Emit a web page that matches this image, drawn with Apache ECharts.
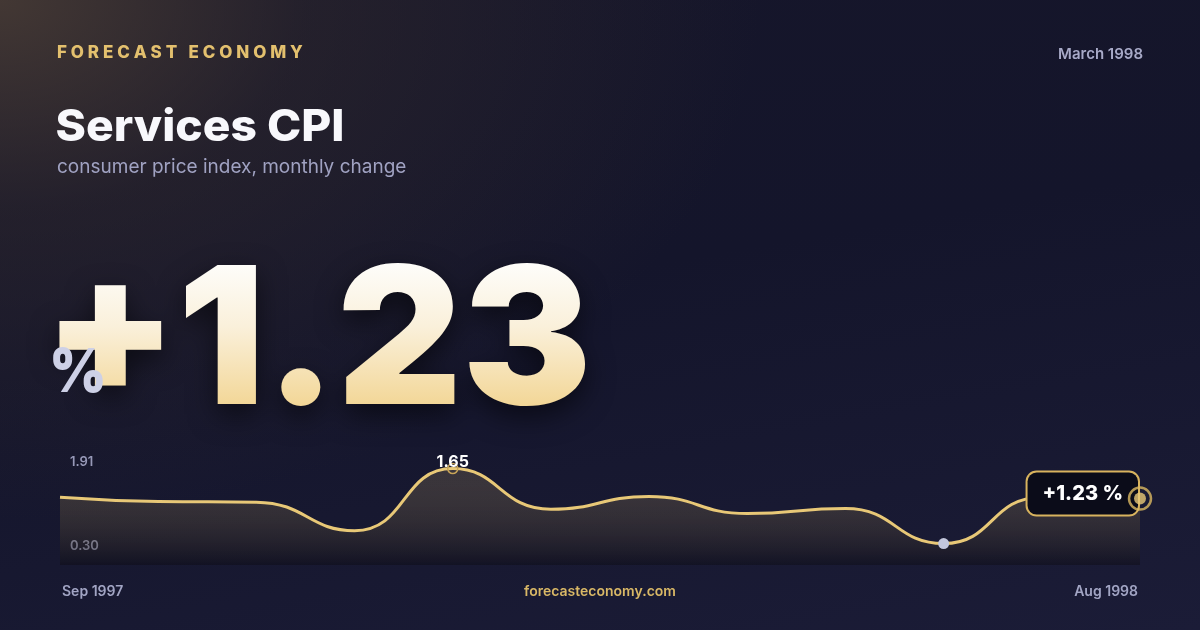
<!DOCTYPE html>
<html><head><meta charset="utf-8">
<script src="https://cdn.jsdelivr.net/npm/echarts@6/dist/echarts.min.js"></script>
<style>
html,body{margin:0;padding:0;width:1200px;height:630px;overflow:hidden;}
body{background:
  radial-gradient(ellipse 760px 520px at 0px 0px, rgba(78,64,54,0.80) 0%, rgba(58,48,46,0.40) 40%, rgba(30,28,40,0) 100%),
  linear-gradient(170deg, #16162a 0%, #14152b 45%, #1b1c37 100%);}
#c{width:1200px;height:630px;}
</style></head><body><div id="c"></div>
<script>
// ---- data ----
const months = ['Sep 1997','Oct 1997','Nov 1997','Dec 1997','Jan 1998','Feb 1998','Mar 1998','Apr 1998','May 1998','Jun 1998','Jul 1998','Aug 1998'];
const cpi = [1.25, 1.19, 1.18, 0.78, 1.65, 1.08, 1.26, 1.02, 1.09, 0.60, 1.25, 1.23];
const yTicks = [0.30, 1.91];
const brand = 'FORECAST ECONOMY';
const headline = 'Services CPI';
const subtitle = 'consumer price index, monthly change';
const dateLabel = 'March 1998';
const site = 'forecasteconomy.com';

// ---- helpers ----
const GOLD = '#e8c877';
const FONT = 'Inter, "Noto Sans", sans-serif';
const last = cpi.length - 1;
const peakIdx = cpi.indexOf(Math.max(...cpi));
const lowIdx = cpi.indexOf(Math.min(...cpi));
const fmt = v => (v >= 0 ? '+' : '') + v.toFixed(2);

const mctx = document.createElement('canvas').getContext('2d');
function fitText(text, weight, box) {
  const base = 100;
  mctx.font = weight + ' ' + base + 'px ' + FONT;
  mctx.textBaseline = 'middle'; mctx.textAlign = 'left';
  const m = mctx.measureText(text);
  const inkW = m.actualBoundingBoxLeft + m.actualBoundingBoxRight;
  const inkH = m.actualBoundingBoxAscent + m.actualBoundingBoxDescent;
  const size = base * (box[3] - box[1]) / inkH;
  const k = size / base;
  const scaleX = (box[2] - box[0]) / (inkW * k);
  return { size, scaleX, x: box[0] + m.actualBoundingBoxLeft * k * scaleX, y: box[1] + m.actualBoundingBoxAscent * k };
}
function spacedRich(text, weight, size, targetW) {
  mctx.font = weight + ' ' + size + 'px ' + FONT;
  const w = mctx.measureText(text).width;
  const pad = (targetW - w) / (text.length - 1);
  return { text: text.split('').map(c => '{c|' + c + '}').join(''), pad };
}

const bigText = fmt(cpi[last]);
const bigBox = [58.7, 263, 586, 406];
const big = fitText(bigText, 900, bigBox);
const pct = fitText('%', 900, [53, 348, 103, 393]);
const ttl = fitText(headline, 800, [57, 106.5, 342, 141]);
const br = spacedRich(brand, 800, 17, 245);

const lineData = cpi.map((v, i) => {
  if (i === peakIdx) return { value: v, symbol: 'circle', symbolSize: 10,
    itemStyle: { color: 'rgba(0,0,0,0)', borderColor: '#c9a558', borderWidth: 1.5 },
    label: { show: true, position: 'inside', offset: [0, -6], formatter: v.toFixed(2), color: '#ffffff',
      fontSize: 16, fontWeight: 700, fontFamily: FONT, textBorderWidth: 0 } };
  if (i === lowIdx) return { value: v, symbol: 'circle', symbolSize: 11, itemStyle: { color: '#c3c7dd', borderWidth: 0 } };
  return { value: v, symbol: 'none' };
});

const bigTextStyle = (fill) => ({ text: bigText, align: 'left', textAlign: 'left', verticalAlign: 'middle', textVerticalAlign: 'middle',
  fontSize: big.size, fontWeight: 900, fontFamily: FONT, fill });

const chart = echarts.init(document.getElementById('c'), null, { renderer: 'canvas' });
chart.setOption({
  animation: false,
  backgroundColor: 'transparent',
  grid: { left: 60, right: 60, top: 450, bottom: 65, containLabel: false, outerBoundsMode: 'none' },
  xAxis: {
    type: 'category', data: months, boundaryGap: false,
    axisLine: { show: false }, axisTick: { show: false }, splitLine: { show: false },
    axisLabel: { interval: (i) => i === 0 || i === last, alignMinLabel: 'left', alignMaxLabel: 'right',
      margin: 20, padding: [0, 2, 0, 2], color: '#a2a5c4', fontSize: 14, fontWeight: 600, fontFamily: FONT }
  },
  yAxis: {
    type: 'value', min: yTicks[0], max: yTicks[1],
    axisLine: { show: false }, axisTick: { show: false }, splitLine: { show: false },
    axisLabel: { inside: true, customValues: yTicks, margin: 10, formatter: v => v.toFixed(2),
      verticalAlignMaxLabel: 'top', verticalAlignMinLabel: 'bottom', padding: [6, 0, 12, 0],
      color: '#9799b8', fontSize: 13, fontWeight: 600, fontFamily: FONT }
  },
  series: [
    { type: 'line', data: lineData, smooth: true, z: 2,
      lineStyle: { color: GOLD, width: 3 },
      itemStyle: { color: GOLD },
      areaStyle: { color: { type: 'linear', x: 0, y: 0, x2: 0, y2: 1, colorStops: [
        { offset: 0, color: 'rgba(232,198,119,0.24)' }, { offset: 1, color: 'rgba(10,9,14,0.55)' } ] } }
    },
    { type: 'scatter', z: 3, silent: true,
      data: [[months[last], cpi[last]]], symbolSize: 12, itemStyle: { color: 'rgba(0,0,0,0)' },
      label: { show: true, position: 'left', distance: -4, offset: [0, -5], formatter: p => fmt(p.value[1]) + ' %',
        opacity: 1, backgroundColor: '#0b0c19', borderColor: '#d8b35e', borderWidth: 2, borderRadius: 9, padding: [11, 15],
        color: '#ffffff', fontSize: 20, fontWeight: 800, fontFamily: FONT }
    },
    { type: 'scatter', z: 4, silent: true,
      data: [
        { value: [months[last], cpi[last]], symbolSize: 22, itemStyle: { color: 'rgba(0,0,0,0)', borderColor: '#dcb962', borderWidth: 2.5 } },
        { value: [months[last], cpi[last]], symbolSize: 12, itemStyle: { color: GOLD } }
      ]
    }
  ],
  graphic: [
    { type: 'text', x: 57, y: 53, silent: true, style: { text: br.text, align: 'left', textAlign: 'left', verticalAlign: 'middle', textVerticalAlign: 'middle',
      rich: { c: { fill: '#e3c06e', fontSize: 17, fontWeight: 800, fontFamily: FONT, padding: [0, br.pad, 0, 0] } } } },
    { type: 'text', x: 1143, y: 54.5, silent: true, style: { text: dateLabel, align: 'right', textAlign: 'right', verticalAlign: 'middle', textVerticalAlign: 'middle',
      fill: '#a8aac8', fontSize: 15, fontWeight: 600, fontFamily: FONT } },
    { type: 'text', x: ttl.x, y: ttl.y, scaleX: ttl.scaleX, silent: true, style: { text: headline, align: 'left', textAlign: 'left', verticalAlign: 'middle', textVerticalAlign: 'middle',
      fill: '#f8f8fc', fontSize: ttl.size, fontWeight: 800, fontFamily: FONT } },
    { type: 'text', x: 57, y: 167, silent: true, style: { text: subtitle, align: 'left', textAlign: 'left', verticalAlign: 'middle', textVerticalAlign: 'middle',
      fill: '#a0a2c2', fontSize: 19, fontWeight: 400, fontFamily: FONT } },
    // shadow copy of the big number (bottom layer)
    { type: 'text', x: big.x, y: big.y, scaleX: big.scaleX, zlevel: 0, z: 10, silent: true,
      style: Object.assign(bigTextStyle('#0c0c14'), { textShadowColor: 'rgba(0,0,0,0.55)', textShadowBlur: 28, textShadowOffsetY: 10 }) },
    // big number on its own layer, coloured with a gradient via source-atop
    { type: 'text', x: big.x, y: big.y, scaleX: big.scaleX, zlevel: 1, z: 10, silent: true, style: bigTextStyle('#ffffff') },
    { type: 'rect', zlevel: 1, z: 11, silent: true,
      shape: { x: bigBox[0] - 6, y: bigBox[1] - 4, width: bigBox[2] - bigBox[0] + 12, height: bigBox[3] - bigBox[1] + 8 },
      style: { blend: 'source-atop', fill: new echarts.graphic.LinearGradient(0, 0, 0, 1, [
        { offset: 0, color: '#fefefc' }, { offset: 0.45, color: '#faf0da' }, { offset: 1, color: '#f2d593' } ]) } },
    { type: 'text', x: pct.x, y: pct.y, scaleX: pct.scaleX, zlevel: 1, z: 12, silent: true, style: { text: '%', align: 'left', textAlign: 'left', verticalAlign: 'middle', textVerticalAlign: 'middle',
      fill: '#cdd0e6', fontSize: pct.size, fontWeight: 900, fontFamily: FONT } },
    { type: 'text', x: 600, y: 592, silent: true, style: { text: site, align: 'center', textAlign: 'center', verticalAlign: 'middle', textVerticalAlign: 'middle',
      fill: '#d9b866', fontSize: 14, fontWeight: 600, fontFamily: FONT } }
  ]
});
</script>
</body></html>
